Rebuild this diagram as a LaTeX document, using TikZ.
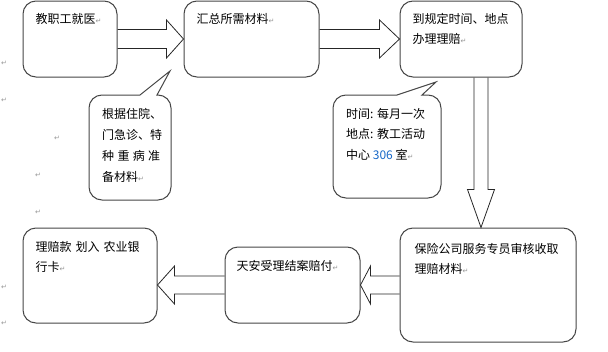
\documentclass[tikz,border=0pt]{standalone}
\usepackage{fontspec}
\newfontfamily\cjk{Noto Sans CJK SC}
\newfontfamily\symbfont{DejaVu Sans}
\usetikzlibrary{positioning,calc}

\definecolor{edge}{RGB}{70,70,70}
\definecolor{markgray}{RGB}{150,150,150}
\definecolor{numblue}{RGB}{25,105,200}

% paragraph mark
\newcommand{\retmark}{{\symbfont\fontsize{7}{7}\selectfont\color{markgray}↵}}
% block arrow: from, to, head length, shaft half width, head half width
\newcommand{\fatarrow}[5]{%
  \coordinate (fa) at ($(#2)!#3!(#1)$);
  \draw[blockarrow] ($(#1)!#4!90:(#2)$) -- ($(fa)!#4!90:(#2)$) -- ($(fa)!#5!90:(#2)$)
    -- (#2) -- ($(fa)!#5!-90:(#2)$) -- ($(fa)!#4!-90:(#2)$) -- ($(#1)!#4!-90:(#2)$);
}

\begin{document}
\begin{tikzpicture}[x=1pt, y=-1pt,
    box/.style={draw=edge, line width=1pt, rounded corners=13pt, fill=white, inner sep=0pt},
    callout/.style={draw=edge, line width=1pt, fill=white},
    txt/.style={anchor=north west, inner sep=0pt, align=left, font=\cjk\fontsize{12}{20}\selectfont},
    blockarrow/.style={draw=black!85, line width=0.8pt, line join=miter}]

    \useasboundingbox (0,0) rectangle (608,351);

    % boxes
    \node [box, minimum width=94pt, minimum height=76pt] (visit) at (70,39) {};
    \node [box, minimum width=135pt, minimum height=76pt] (collect) at (251.5,39) {};
    \node [box, minimum width=122pt, minimum height=76pt] (handle) at (461,39) {};
    \node [box, minimum width=176pt, minimum height=114pt] (review) at (488,285) {};
    \node [box, minimum width=135pt, minimum height=76pt] (settle) at (292.5,285) {};
    \node [box, minimum width=134pt, minimum height=95pt] (bank) at (90,275.5) {};

    \node [txt, below right=13pt and 13pt of visit.north west] (visit-t) {教职工就医\retmark};
    \node [txt, below right=13pt and 13pt of collect.north west] (collect-t) {汇总所需材料\retmark};
    \node [txt, below right=13pt and 13pt of handle.north west] (handle-t) {到规定时间、地点\\办理理赔\retmark};
    \node [txt, below right=16pt and 15pt of review.north west] (review-t) {保险公司服务专员审核收取\\理赔材料\retmark};
    \node [txt, below right=14pt and 12pt of settle.north west] (settle-t) {天安受理结案赔付\retmark};
    \node [txt, below right=14pt and 13pt of bank.north west] (bank-t) {理赔款\hspace{4pt}划入\hspace{4pt}农业银\\行卡\retmark};

    % callouts
    \draw [callout] (140,95) -- (170,71) -- (157,95) [rounded corners=13pt] -- (171,95)
        -- (171,200) -- (89,200) -- (89,95) -- (140,95);
    \node [txt, font=\cjk\fontsize{12}{21}\selectfont] (note1) at (102,108) {根据住院、\\门急诊、特\\\makebox[58pt][s]{种\hfill 重\hfill 病\hfill 准}\\备材料\retmark};

    \draw [callout] (397,95) -- (436,82) -- (422,95) [rounded corners=13pt] -- (441,95)
        -- (441,198) -- (333,198) -- (333,95) -- (397,95);
    \node [txt, font=\cjk\fontsize{12}{20.5}\selectfont] (note2) at (346,108) {时间: 每月一次\\地点: 教工活动\\中心 {\color{numblue}306} 室\retmark};

    % arrows
    \coordinate (down-a) at ($(handle.south)+(20,0)$);
    \coordinate (down-b) at ($(review.north)+(-7,0)$);
    \coordinate (left-b) at ($(bank.east)+(0,9.5)$);
    \fatarrow{visit.east}{collect.west}{17pt}{9.5pt}{19pt}
    \fatarrow{collect.east}{handle.west}{20pt}{9.5pt}{19pt}
    \fatarrow{down-a}{down-b}{38pt}{7pt}{13.5pt}
    \fatarrow{review.west}{settle.east}{10pt}{9pt}{19pt}
    \fatarrow{settle.west}{left-b}{17pt}{9pt}{19pt}

    % stray paragraph marks
    \foreach \mx/\my [count=\i] in {4/63, 4/100, 57/138, 38/175, 38/212, 4/287, 4/323}
        \node [inner sep=0pt] (mark\i) at (\mx,\my) {\retmark};
\end{tikzpicture}
\end{document}
